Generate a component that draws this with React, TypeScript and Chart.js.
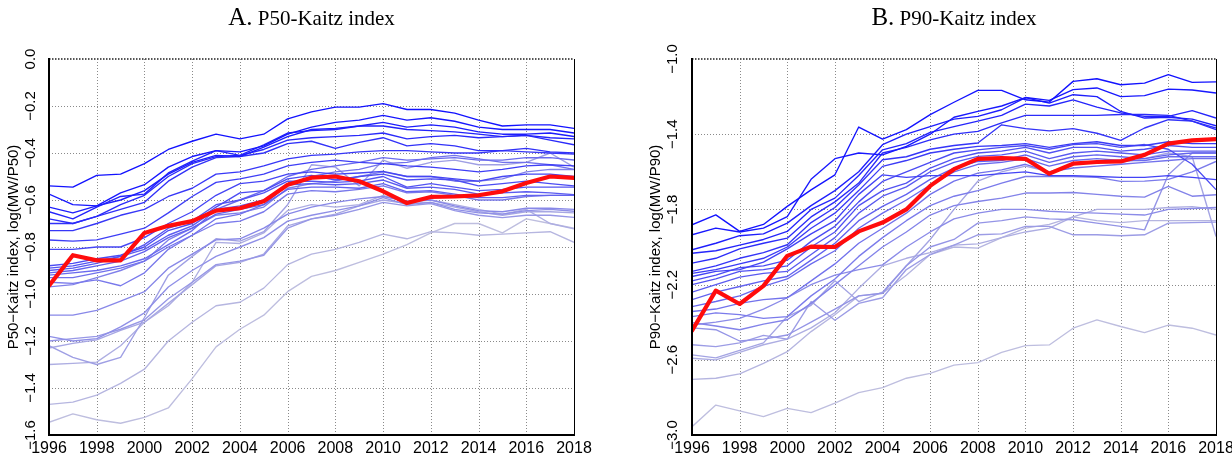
import React, { useEffect, useRef } from "react";
import { Chart, registerables } from "chart.js";

Chart.register(...registerables);

// ---------- shared data ----------
const years = [1996, 1997, 1998, 1999, 2000, 2001, 2002, 2003, 2004, 2005, 2006, 2007, 2008, 2009, 2010, 2011, 2012, 2013, 2014, 2015, 2016, 2017, 2018];
const xGridYears = [1998, 2000, 2002, 2004, 2006, 2008, 2010, 2012, 2014, 2016];

// ---------- Panel A: P50-Kaitz ----------
const p50TickValues = [0, -0.2, -0.4, -0.6, -0.8, -1.0, -1.2, -1.4, -1.6];
const p50TickLabels = ["0.0", "\u22120.2", "\u22120.4", "\u22120.6", "\u22120.8", "\u22121.0", "\u22121.2", "\u22121.4", "\u22121.6"];
const p50Red = [-0.965, -0.835, -0.857, -0.857, -0.74, -0.71, -0.69, -0.645, -0.635, -0.605, -0.535, -0.505, -0.5, -0.52, -0.563, -0.613, -0.587, -0.585, -0.58, -0.563, -0.528, -0.5, -0.506];
const a01 = [-0.54, -0.545, -0.495, -0.49, -0.445, -0.385, -0.35, -0.32, -0.34, -0.32, -0.255, -0.225, -0.205, -0.205, -0.19, -0.215, -0.215, -0.23, -0.26, -0.285, -0.28, -0.28, -0.295];
const a02 = [-0.575, -0.62, -0.625, -0.57, -0.535, -0.46, -0.415, -0.39, -0.395, -0.37, -0.32, -0.29, -0.27, -0.26, -0.24, -0.26, -0.25, -0.265, -0.29, -0.3, -0.3, -0.3, -0.315];
const a03 = [-0.63, -0.655, -0.625, -0.6, -0.56, -0.49, -0.44, -0.41, -0.415, -0.375, -0.33, -0.3, -0.295, -0.285, -0.27, -0.29, -0.28, -0.29, -0.31, -0.32, -0.32, -0.315, -0.33];
const a04 = [-0.65, -0.68, -0.63, -0.585, -0.575, -0.485, -0.435, -0.39, -0.41, -0.365, -0.315, -0.305, -0.3, -0.285, -0.285, -0.3, -0.305, -0.31, -0.32, -0.33, -0.325, -0.335, -0.34];
const a05 = [-0.68, -0.7, -0.67, -0.62, -0.58, -0.5, -0.445, -0.415, -0.41, -0.385, -0.345, -0.335, -0.33, -0.325, -0.315, -0.34, -0.33, -0.325, -0.335, -0.33, -0.325, -0.345, -0.365];
const a06 = [-0.7, -0.7, -0.67, -0.64, -0.61, -0.52, -0.46, -0.42, -0.415, -0.4, -0.36, -0.35, -0.38, -0.355, -0.335, -0.37, -0.36, -0.37, -0.39, -0.39, -0.38, -0.395, -0.4];
const a07 = [-0.73, -0.73, -0.7, -0.665, -0.64, -0.585, -0.55, -0.49, -0.48, -0.455, -0.425, -0.41, -0.405, -0.395, -0.39, -0.39, -0.395, -0.4, -0.4, -0.39, -0.395, -0.4, -0.405];
const a08 = [-0.77, -0.775, -0.77, -0.745, -0.72, -0.655, -0.585, -0.525, -0.51, -0.49, -0.455, -0.44, -0.43, -0.44, -0.445, -0.455, -0.46, -0.47, -0.48, -0.47, -0.455, -0.45, -0.455];
const a09 = [-0.81, -0.81, -0.8, -0.8, -0.76, -0.7, -0.65, -0.58, -0.53, -0.52, -0.49, -0.48, -0.49, -0.485, -0.478, -0.5, -0.5, -0.51, -0.52, -0.5, -0.49, -0.49, -0.5];
const a10 = [-0.88, -0.87, -0.85, -0.835, -0.8, -0.73, -0.7, -0.63, -0.57, -0.56, -0.51, -0.495, -0.515, -0.5, -0.49, -0.515, -0.51, -0.515, -0.54, -0.53, -0.52, -0.53, -0.54];
const a11 = [-0.89, -0.88, -0.86, -0.84, -0.79, -0.72, -0.69, -0.62, -0.6, -0.57, -0.52, -0.52, -0.525, -0.52, -0.5, -0.545, -0.53, -0.545, -0.56, -0.555, -0.545, -0.545, -0.545];
const a12 = [-0.9, -0.89, -0.87, -0.84, -0.81, -0.75, -0.71, -0.64, -0.625, -0.6, -0.535, -0.53, -0.535, -0.53, -0.515, -0.55, -0.545, -0.555, -0.575, -0.57, -0.565, -0.57, -0.577];
const a13 = [-0.91, -0.9, -0.88, -0.86, -0.82, -0.76, -0.72, -0.66, -0.64, -0.62, -0.555, -0.545, -0.545, -0.55, -0.53, -0.565, -0.56, -0.575, -0.59, -0.59, -0.58, -0.58, -0.58];
const a14 = [-0.92, -0.91, -0.9, -0.88, -0.85, -0.79, -0.73, -0.64, -0.6, -0.56, -0.5, -0.47, -0.455, -0.44, -0.42, -0.43, -0.425, -0.42, -0.43, -0.43, -0.42, -0.42, -0.43];
const a15 = [-0.93, -0.93, -0.91, -0.89, -0.86, -0.8, -0.75, -0.68, -0.66, -0.62, -0.535, -0.5, -0.48, -0.47, -0.445, -0.44, -0.42, -0.41, -0.425, -0.44, -0.44, -0.45, -0.47];
const a16 = [-0.95, -0.955, -0.94, -0.965, -0.91, -0.81, -0.75, -0.7, -0.69, -0.65, -0.575, -0.56, -0.565, -0.555, -0.54, -0.57, -0.565, -0.58, -0.6, -0.6, -0.585, -0.58, -0.58];
const a17 = [-0.97, -0.96, -0.93, -0.9, -0.86, -0.77, -0.72, -0.665, -0.655, -0.63, -0.55, -0.53, -0.52, -0.5, -0.48, -0.5, -0.5, -0.52, -0.52, -0.51, -0.48, -0.47, -0.47];
const a18 = [-1.09, -1.09, -1.07, -1.03, -0.99, -0.89, -0.83, -0.77, -0.765, -0.72, -0.66, -0.63, -0.61, -0.595, -0.585, -0.605, -0.6, -0.625, -0.645, -0.65, -0.635, -0.635, -0.64];
const a19 = [-1.18, -1.2, -1.19, -1.14, -1.08, -0.97, -0.9, -0.84, -0.8, -0.76, -0.69, -0.665, -0.645, -0.625, -0.59, -0.62, -0.61, -0.64, -0.655, -0.66, -0.645, -0.64, -0.648];
const a20 = [-1.2, -1.19, -1.18, -1.15, -1.11, -1.02, -0.95, -0.875, -0.86, -0.835, -0.72, -0.68, -0.665, -0.64, -0.61, -0.625, -0.615, -0.645, -0.665, -0.675, -0.665, -0.665, -0.674];
const a21 = [-1.22, -1.27, -1.3, -1.27, -1.1, -0.92, -0.84, -0.765, -0.775, -0.735, -0.62, -0.45, -0.46, -0.54, -0.43, -0.465, -0.44, -0.43, -0.45, -0.45, -0.44, -0.4, -0.46];
const a22 = [-1.23, -1.21, -1.195, -1.155, -1.12, -1.04, -0.96, -0.88, -0.865, -0.83, -0.71, -0.68, -0.66, -0.625, -0.6, -0.615, -0.61, -0.63, -0.65, -0.665, -0.65, -0.65, -0.655];
const a23 = [-1.3, -1.295, -1.29, -1.22, -1.12, -1.05, -0.95, -0.78, -0.785, -0.74, -0.645, -0.62, -0.63, -0.62, -0.58, -0.61, -0.6, -0.62, -0.64, -0.66, -0.64, -0.7, -0.723];
const a24 = [-1.47, -1.46, -1.43, -1.38, -1.32, -1.2, -1.12, -1.05, -1.035, -0.975, -0.875, -0.83, -0.81, -0.78, -0.745, -0.765, -0.735, -0.74, -0.75, -0.745, -0.74, -0.735, -0.78];
const a25 = [-1.546, -1.51, -1.535, -1.55, -1.525, -1.485, -1.36, -1.225, -1.15, -1.09, -0.99, -0.925, -0.9, -0.865, -0.83, -0.79, -0.74, -0.7, -0.7, -0.74, -0.68, -0.7, -0.72];
const p50Lines = [a01, a02, a03, a04, a05, a06, a07, a08, a09, a10, a11, a12, a13, a14, a15, a16, a17, a18, a19, a20, a21, a22, a23, a24, a25];

// ---------- Panel B: P90-Kaitz ----------
const p90TickValues = [-1.0, -1.4, -1.8, -2.2, -2.6, -3.0];
const p90TickLabels = ["\u22121.0", "\u22121.4", "\u22121.8", "\u22122.2", "\u22122.6", "\u22123.0"];
const p90Red = [-2.445, -2.232, -2.303, -2.207, -2.047, -1.998, -2.0, -1.917, -1.87, -1.8, -1.675, -1.586, -1.531, -1.527, -1.531, -1.61, -1.557, -1.548, -1.545, -1.51, -1.45, -1.433, -1.426];
const b01 = [-1.882, -1.829, -1.917, -1.88, -1.784, -1.696, -1.616, -1.362, -1.426, -1.376, -1.296, -1.23, -1.167, -1.167, -1.217, -1.229, -1.119, -1.105, -1.137, -1.128, -1.083, -1.124, -1.122];
const b02 = [-1.935, -1.9, -1.92, -1.9, -1.838, -1.64, -1.53, -1.5, -1.51, -1.465, -1.4, -1.31, -1.279, -1.25, -1.205, -1.22, -1.163, -1.154, -1.2, -1.195, -1.16, -1.165, -1.181];
const b03 = [-2.015, -1.98, -1.94, -1.93, -1.873, -1.78, -1.7, -1.6, -1.456, -1.4, -1.36, -1.32, -1.305, -1.27, -1.205, -1.235, -1.19, -1.2, -1.279, -1.314, -1.31, -1.32, -1.355];
const b04 = [-2.033, -2.02, -1.99, -1.96, -1.917, -1.8, -1.74, -1.62, -1.483, -1.45, -1.39, -1.36, -1.33, -1.3, -1.24, -1.25, -1.217, -1.256, -1.287, -1.305, -1.305, -1.275, -1.314];
const b05 = [-2.086, -2.06, -2.01, -1.98, -1.953, -1.84, -1.76, -1.66, -1.5, -1.47, -1.43, -1.4, -1.385, -1.34, -1.3, -1.3, -1.3, -1.3, -1.295, -1.295, -1.3, -1.33, -1.376];
const b06 = [-2.13, -2.1, -2.06, -2.03, -1.988, -1.87, -1.79, -1.67, -1.536, -1.52, -1.48, -1.46, -1.447, -1.35, -1.37, -1.382, -1.37, -1.395, -1.433, -1.367, -1.323, -1.33, -1.367];
const b07 = [-2.14, -2.12, -2.09, -2.06, -2.0, -1.9, -1.82, -1.7, -1.571, -1.54, -1.5, -1.48, -1.465, -1.46, -1.45, -1.47, -1.45, -1.44, -1.46, -1.46, -1.44, -1.45, -1.45];
const b08 = [-2.157, -2.13, -2.12, -2.08, -2.01, -1.93, -1.86, -1.72, -1.616, -1.63, -1.62, -1.62, -1.62, -1.61, -1.6, -1.62, -1.62, -1.625, -1.63, -1.63, -1.62, -1.63, -1.642];
const b09 = [-2.18, -2.15, -2.11, -2.1, -2.07, -1.97, -1.89, -1.76, -1.651, -1.6, -1.55, -1.5, -1.483, -1.47, -1.46, -1.48, -1.455, -1.45, -1.47, -1.455, -1.48, -1.56, -1.695];
const b10 = [-2.2, -2.17, -2.13, -2.12, -2.1, -2.0, -1.92, -1.78, -1.7, -1.66, -1.58, -1.53, -1.5, -1.49, -1.47, -1.5, -1.47, -1.47, -1.49, -1.48, -1.46, -1.47, -1.47];
const b11 = [-2.24, -2.2, -2.16, -2.14, -2.13, -2.04, -1.95, -1.82, -1.73, -1.68, -1.6, -1.55, -1.518, -1.51, -1.49, -1.53, -1.5, -1.49, -1.5, -1.51, -1.49, -1.49, -1.49];
const b12 = [-2.28, -2.24, -2.21, -2.18, -2.157, -2.07, -1.98, -1.86, -1.784, -1.72, -1.64, -1.58, -1.545, -1.54, -1.51, -1.55, -1.52, -1.51, -1.52, -1.53, -1.51, -1.5, -1.5];
const b13 = [-2.317, -2.29, -2.26, -2.21, -2.17, -2.09, -2.02, -1.9, -1.82, -1.75, -1.67, -1.6, -1.56, -1.55, -1.53, -1.57, -1.54, -1.53, -1.54, -1.54, -1.52, -1.52, -1.52];
const b14 = [-2.343, -2.33, -2.3, -2.28, -2.27, -2.18, -2.09, -1.98, -1.9, -1.82, -1.72, -1.65, -1.607, -1.59, -1.56, -1.6, -1.58, -1.57, -1.56, -1.55, -1.54, -1.53, -1.53];
const b15 = [-2.37, -2.35, -2.36, -2.38, -2.37, -2.26, -2.17, -2.05, -1.95, -1.86, -1.78, -1.73, -1.7, -1.66, -1.625, -1.625, -1.625, -1.63, -1.651, -1.65, -1.64, -1.6, -1.545];
const b16 = [-2.402, -2.42, -2.44, -2.41, -2.387, -2.3, -2.2, -2.1, -2.0, -1.92, -1.83, -1.78, -1.758, -1.74, -1.713, -1.713, -1.71, -1.72, -1.73, -1.735, -1.678, -1.73, -1.722];
const b17 = [-2.415, -2.4, -2.38, -2.33, -2.27, -2.2, -2.15, -2.12, -2.095, -2.0, -1.92, -1.85, -1.82, -1.8, -1.8, -1.81, -1.816, -1.82, -1.825, -1.83, -1.8, -1.795, -1.79];
const b18 = [-2.43, -2.44, -2.5, -2.49, -2.468, -2.4, -2.33, -2.26, -2.246, -2.1, -2.0, -1.96, -1.873, -1.86, -1.84, -1.85, -1.855, -1.873, -1.89, -1.909, -1.616, -1.5, -1.5];
const b19 = [-2.52, -2.53, -2.51, -2.47, -2.49, -2.29, -2.39, -2.3, -2.27, -2.12, -2.04, -1.99, -1.935, -1.93, -1.89, -1.89, -1.935, -1.935, -1.94, -1.935, -1.873, -1.87, -1.868];
const b20 = [-2.574, -2.59, -2.55, -2.51, -2.37, -2.31, -2.18, -2.29, -2.24, -2.1, -1.96, -1.8, -1.65, -1.6, -1.57, -1.6, -1.56, -1.55, -1.55, -1.53, -1.5, -1.52, -1.944];
const b21 = [-2.592, -2.6, -2.56, -2.52, -2.49, -2.43, -2.35, -2.22, -2.1, -2.06, -2.03, -1.99, -1.983, -1.95, -1.92, -1.9, -1.84, -1.8, -1.8, -1.8, -1.79, -1.785, -1.8];
const b22 = [-2.704, -2.698, -2.675, -2.619, -2.557, -2.45, -2.36, -2.26, -2.246, -2.15, -2.04, -2.0, -2.006, -1.95, -1.9, -1.88, -1.84, -1.86, -1.87, -1.86, -1.86, -1.86, -1.86];
const b23 = [-2.956, -2.841, -2.872, -2.902, -2.858, -2.881, -2.831, -2.775, -2.748, -2.698, -2.672, -2.628, -2.615, -2.56, -2.525, -2.521, -2.432, -2.388, -2.423, -2.455, -2.415, -2.432, -2.468];
const p90Lines = [b01, b02, b03, b04, b05, b06, b07, b08, b09, b10, b11, b12, b13, b14, b15, b16, b17, b18, b19, b20, b21, b22, b23];

type Panel = {
  letter: string;
  title: string;
  yTitle: string;
  yMin: number;
  yMax: number;
  yStep: number;
  tickValues: number[];
  tickLabels: string[];
  lines: number[][];
  red: number[];
  axisWidth: number;
  rightPad: number;
  tickLabelX: number;
  yTitleX: number;
};

const panelA: Panel = {
  letter: "A.",
  title: "P50-Kaitz index",
  yTitle: "P50\u2212Kaitz index, log(MW/P50)",
  yMin: -1.6,
  yMax: 0,
  yStep: 0.2,
  tickValues: p50TickValues,
  tickLabels: p50TickLabels,
  lines: p50Lines,
  red: p50Red,
  axisWidth: 49,
  rightPad: 42,
  tickLabelX: 31,
  yTitleX: 14,
};

const panelB: Panel = {
  letter: "B.",
  title: "P90-Kaitz index",
  yTitle: "P90\u2212Kaitz index, log(MW/P90)",
  yMin: -3.0,
  yMax: -1.0,
  yStep: 0.4,
  tickValues: p90TickValues,
  tickLabels: p90TickLabels,
  lines: p90Lines,
  red: p90Red,
  axisWidth: 76,
  rightPad: 16,
  tickLabelX: 57,
  yTitleX: 40,
};

function shade(t: number): string {
  const r = Math.round(18 + 172 * Math.pow(t, 1.1));
  const b = Math.round(255 - 32 * t);
  return `rgb(${r},${r},${b})`;
}

const SANS = '"Liberation Sans", Arial, Helvetica, sans-serif';
const SERIF = '"Liberation Serif", "Times New Roman", serif';

function buildChart(canvas: HTMLCanvasElement, p: Panel): Chart {
  const n = p.lines.length;
  const idx = p.lines.map((_, i) => i).sort((i, j) => p.lines[j][0] - p.lines[i][0]);
  const rank: number[] = new Array(n);
  idx.forEach((li, r) => (rank[li] = r));

  const datasets: any[] = p.lines.map((vals, i) => ({
    data: vals.map((v, k) => ({ x: years[k], y: v })),
    borderColor: shade(rank[i] / (n - 1)),
    borderWidth: 1.35,
    pointRadius: 0,
    tension: 0,
    order: rank[i] + 1,
    borderJoinStyle: "round",
  }));
  datasets.push({
    data: p.red.map((v, k) => ({ x: years[k], y: v })),
    borderColor: "rgb(255,12,12)",
    borderWidth: 4.2,
    pointRadius: 0,
    tension: 0,
    order: 0,
    borderJoinStyle: "round",
    borderCapStyle: "round",
  });

  const decor = {
    id: "decor" + p.letter,
    beforeDatasetsDraw(chart: any) {
      const { ctx, chartArea: a, scales } = chart;
      const x = scales.x;
      const y = scales.y;
      ctx.save();
      ctx.strokeStyle = "#8a8a8a";
      ctx.lineWidth = 1;
      ctx.setLineDash([1, 2]);
      xGridYears.forEach((yr) => {
        const px = Math.round(x.getPixelForValue(yr)) + 0.5;
        ctx.beginPath();
        ctx.moveTo(px, a.top);
        ctx.lineTo(px, a.bottom);
        ctx.stroke();
      });
      p.tickValues.forEach((v) => {
        if (v === p.yMax || v === p.yMin) return;
        const py = Math.round(y.getPixelForValue(v)) + 0.5;
        ctx.beginPath();
        ctx.moveTo(a.left, py);
        ctx.lineTo(a.right, py);
        ctx.stroke();
      });
      ctx.restore();
    },
    afterDatasetsDraw(chart: any) {
      const { ctx, chartArea: a } = chart;
      ctx.save();
      ctx.strokeStyle = "#555";
      ctx.lineWidth = 2;
      ctx.setLineDash([1.5, 1.5]);
      ctx.beginPath();
      ctx.moveTo(a.left, a.top);
      ctx.lineTo(a.right, a.top);
      ctx.stroke();
      ctx.setLineDash([]);
      ctx.strokeStyle = "#000";
      ctx.lineWidth = 1;
      ctx.beginPath();
      ctx.moveTo(a.right + 0.5, a.top);
      ctx.lineTo(a.right + 0.5, a.bottom);
      ctx.stroke();
      ctx.lineWidth = 2;
      ctx.beginPath();
      ctx.moveTo(a.left, a.top - 1);
      ctx.lineTo(a.left, a.bottom);
      ctx.lineTo(a.right + 1, a.bottom);
      ctx.stroke();
      ctx.restore();
    },
    afterDraw(chart: any) {
      const { ctx, chartArea: a, scales } = chart;
      const y = scales.y;
      ctx.save();
      ctx.fillStyle = "#000";
      ctx.font = `15px ${SANS}`;
      ctx.textAlign = "center";
      ctx.textBaseline = "middle";
      p.tickValues.forEach((v, i) => {
        const py = y.getPixelForValue(v);
        ctx.save();
        ctx.translate(p.tickLabelX, py);
        ctx.rotate(-Math.PI / 2);
        ctx.fillText(p.tickLabels[i], 0, 0);
        ctx.restore();
      });
      ctx.save();
      ctx.translate(p.yTitleX, (a.top + a.bottom) / 2);
      ctx.rotate(-Math.PI / 2);
      ctx.fillText(p.yTitle, 0, 0);
      ctx.restore();

      const cx = (a.left + a.right) / 2;
      ctx.textAlign = "left";
      ctx.textBaseline = "alphabetic";
      ctx.font = `25px ${SERIF}`;
      const w1 = ctx.measureText(p.letter).width;
      ctx.font = `21px ${SERIF}`;
      const gap = ctx.measureText(" ").width;
      const w2 = ctx.measureText(p.title).width;
      const start = cx - (w1 + gap + w2) / 2;
      ctx.font = `25px ${SERIF}`;
      ctx.fillText(p.letter, start, 25);
      ctx.font = `21px ${SERIF}`;
      ctx.fillText(p.title, start + w1 + gap, 25);
      ctx.restore();
    },
  };

  return new Chart(canvas, {
    type: "line",
    data: { datasets },
    options: {
      responsive: false,
      animation: false,
      devicePixelRatio: 1,
      layout: { padding: { left: 0, right: p.rightPad, top: 59, bottom: 0 } },
      plugins: {
        legend: { display: false },
        tooltip: { enabled: false },
        title: { display: false },
      },
      scales: {
        x: {
          type: "linear",
          min: 1996,
          max: 2018,
          grid: { display: false },
          border: { display: false },
          afterFit: (s: any) => {
            s.height = 24;
          },
          ticks: {
            stepSize: 2,
            autoSkip: false,
            maxRotation: 0,
            minRotation: 0,
            color: "#000",
            padding: -4,
            font: { family: SANS, size: 16 },
            callback: (v: any) => String(v),
          },
        },
        y: {
          type: "linear",
          min: p.yMin,
          max: p.yMax,
          grid: { display: false },
          border: { display: false },
          afterFit: (s: any) => {
            s.width = p.axisWidth;
          },
          ticks: { display: false, stepSize: p.yStep },
        },
      },
    } as any,
    plugins: [decor],
  });
}

export default function App() {
  const refA = useRef<HTMLCanvasElement>(null);
  const refB = useRef<HTMLCanvasElement>(null);

  useEffect(() => {
    document.body.style.margin = "0";
    const cA = buildChart(refA.current!, panelA);
    const cB = buildChart(refB.current!, panelB);
    return () => {
      cA.destroy();
      cB.destroy();
    };
  }, []);

  return (
    <div style={{ position: "relative", width: 1232, height: 459, background: "#fff" }}>
      <canvas ref={refA} width={616} height={459} style={{ position: "absolute", left: 0, top: 0, width: 616, height: 459 }} />
      <canvas ref={refB} width={616} height={459} style={{ position: "absolute", left: 616, top: 0, width: 616, height: 459 }} />
    </div>
  );
}
